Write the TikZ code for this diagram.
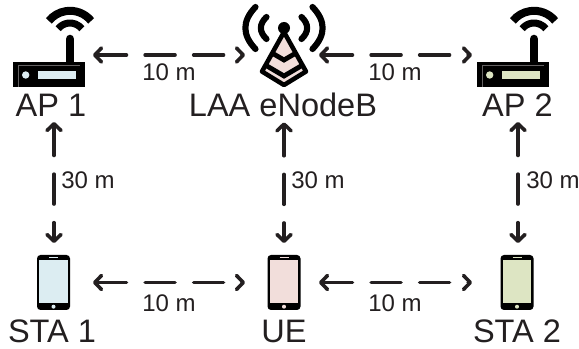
\documentclass[tikz,border=0pt]{standalone}
\usepackage{fontspec}
\setmainfont{Liberation Sans}
\usetikzlibrary{arrows.meta}
\definecolor{ink}{HTML}{231F20}
\definecolor{cblue}{HTML}{DCEDF2}
\definecolor{cgreen}{HTML}{DDE5C3}
\definecolor{cpink}{HTML}{F2DEDB}
\tikzset{
  x=.75pt,y=.75pt,
  link/.style={draw=ink,line width=2.7pt,line cap=round,dash pattern=on 22.4pt off 14pt,
    {Straight Barb[length=5pt,width=10.5pt,line width=2.7pt,round]}-{Straight Barb[length=5pt,width=10.5pt,line width=2.7pt,round]}},
  biglabel/.style={anchor=base,text=ink,font=\fontsize{24.4pt}{26pt}\selectfont,inner sep=0pt,outer ysep=3.75pt},
  dist/.style={anchor=base,text=ink,font=\fontsize{18pt}{20pt}\selectfont,inner sep=0pt},
  iconbox/.style={inner sep=0pt,outer sep=0pt,minimum width=#1*.75pt,minimum height=59.25pt},
  pics/router/.style={code={
    \draw[black,line width=6pt] (39:27.2) arc[start angle=39,end angle=141,radius=27.2];
    \draw[black,line width=5.3pt] (38:15) arc[start angle=38,end angle=142,radius=15];
    \draw[black,line width=6.4pt,line cap=round] (0,-1) -- (0,-26);
    \fill[black] (-57,-24) rectangle (15,-49);
    \draw[ink!70!white,line width=.3pt] (-52,-49) -- (-52,-27) -- (10,-27);
    \fill[#1] (-32.5,-33) rectangle (5.5,-41);
    \fill[#1] (-44.3,-37) circle[radius=3.7];
  }},
  pics/phone/.style={code={
    \fill[black,rounded corners=2.6pt] (-16.5,27.5) rectangle (16.5,-27.5);
    \fill[#1] (-14.2,22.5) rectangle (14.2,-20.5);
    \draw[#1,line width=.8pt] (-4.5,25) -- (4.5,25);
    \fill[#1] (0,-24.2) circle[radius=2];
  }}
}
\begin{document}
\begin{tikzpicture}
\useasboundingbox (0,0) rectangle (579,-349);
% icon boxes (invisible anchors of the connectors)
\node[iconbox=80] (ap1) at (53,-55) {};
\node[iconbox=74] (enb) at (282,-55) {};
\node[iconbox=92] (ap2) at (518,-55) {};
\node[iconbox=78] (sta1) at (54,-282.5) {};
\node[iconbox=74] (ue) at (282,-282.5) {};
\node[iconbox=92] (sta2) at (518,-282.5) {};
% routers
\pic at (70,-38) {router=cblue};
\pic at (534,-38) {router=cgreen};
% tower
\begin{scope}[shift={(284,-28)}]
  \draw[black,line width=4.6pt,line cap=round] (-28.5,21) .. controls (-42,7) and (-42,-7) .. (-28.5,-21);
  \draw[black,line width=4.6pt,line cap=round] (28.5,21) .. controls (42,7) and (42,-7) .. (28.5,-21);
  \draw[black,line width=4.6pt,line cap=round] (-17.5,11) .. controls (-25,4) and (-25,-4) .. (-17.5,-11);
  \draw[black,line width=4.6pt,line cap=round] (17.5,11) .. controls (25,4) and (25,-4) .. (17.5,-11);
  \draw[black,fill=cpink,line width=3.4pt,line join=round] (0,-4) -- (22,-43.5) -- (0,-57) -- (-22,-43.5) -- cycle;
  \draw[black,line width=3.6pt,line join=miter] (-12,-25) -- (0,-32) -- (12,-25);
  \draw[black,line width=3.6pt,line join=miter] (-17,-38) -- (0,-48) -- (17,-38);
  \fill[black] (0,0) circle[radius=6];
\end{scope}
% phones
\pic at (53.5,-282.5) {phone=cblue};
\pic at (284,-282.5) {phone=cpink};
\pic at (517,-282.5) {phone=cgreen};
% labels
\node[biglabel] (ap1lab) at (51,-117) {AP 1};
\node[biglabel] (enblab) at (283,-117) {LAA eNodeB};
\node[biglabel] (ap2lab) at (517.5,-117) {AP 2};
\node[biglabel] (sta1lab) at (52,-342.5) {STA 1};
\node[biglabel] (uelab) at (284,-342.5) {UE};
\node[biglabel] (sta2lab) at (517,-342.5) {STA 2};
% connectors
\draw[link] (ap1.east) -- (enb.west);
\draw[link] (enb.east) -- (ap2.west);
\draw[link] (sta1.east) -- (ue.west);
\draw[link] (ue.east) -- (sta2.west);
\draw[link] (sta1.north |- ap1lab.south) -- (sta1.north);
\draw[link] ([xshift=1.5pt]ue.north |- enblab.south) -- ([xshift=1.5pt]ue.north);
\draw[link] (sta2.north |- ap2lab.south) -- (sta2.north);
% distances
\node[dist] (d1) at (169,-81) {10 m};
\node[dist] (d2) at (395,-81) {10 m};
\node[dist] (d3) at (169,-311) {10 m};
\node[dist] (d4) at (395,-311) {10 m};
\node[dist] (d5) at (88,-189) {30 m};
\node[dist] (d6) at (318,-189) {30 m};
\node[dist] (d7) at (553,-189) {30 m};
\end{tikzpicture}
\end{document}
